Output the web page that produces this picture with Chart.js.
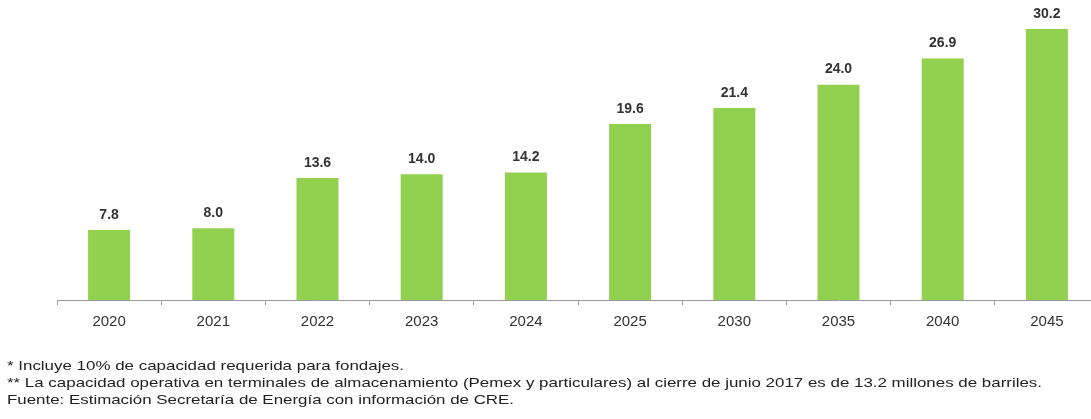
<!DOCTYPE html>
<html><head><meta charset="utf-8">
<script src="https://cdn.jsdelivr.net/npm/chart.js@4"></script>
<style>
html,body{margin:0;padding:0;background:#fff;}
#wrap{position:relative;width:1091px;height:419px;overflow:hidden;}
#c{position:absolute;left:0;top:0;}
.fn{position:absolute;left:7px;font-family:"Liberation Sans",Arial,sans-serif;font-size:13px;color:#222;white-space:nowrap;transform-origin:0 50%;line-height:16px;}
</style></head>
<body>
<div id="wrap">
<canvas id="c" width="1110" height="419"></canvas>
<div class="fn" id="f1" style="top:358px" data-w="397"></div>
<div class="fn" id="f2" style="top:375px" data-w="1035"></div>
<div class="fn" id="f3" style="top:392px" data-w="507"></div>
</div>
<script>
const categories = ["2020","2021","2022","2023","2024","2025","2030","2035","2040","2045"];
const values = [7.8, 8.0, 13.6, 14.0, 14.2, 19.6, 21.4, 24.0, 26.9, 30.2];
const footnotes = [
  "* Incluye 10% de capacidad requerida para fondajes.",
  "** La capacidad operativa en terminales de almacenamiento (Pemex y particulares) al cierre de junio 2017 es de 13.2 millones de barriles.",
  "Fuente: Estimación Secretaría de Energía con información de CRE."
];

["f1","f2","f3"].forEach((id,i)=>{
  const el=document.getElementById(id);
  el.textContent=footnotes[i];
  const w=el.getBoundingClientRect().width;
  const target=+el.dataset.w;
  el.style.transform="scaleX("+(target/w)+")";
});

const valueLabels = {
  id:'valueLabels',
  afterDatasetsDraw(chart){
    const ctx=chart.ctx;
    const meta=chart.getDatasetMeta(0);
    ctx.save();
    ctx.font='bold 14px "Liberation Sans", Arial, sans-serif';
    ctx.fillStyle='#333';
    ctx.textAlign='center';
    ctx.textBaseline='bottom';
    meta.data.forEach((bar,i)=>{
      ctx.fillText(values[i].toFixed(1), bar.x, bar.y-8);
    });
    ctx.restore();
  }
};

new Chart(document.getElementById('c'),{
  type:'bar',
  data:{labels:categories,datasets:[{data:values,backgroundColor:'#92D050',borderWidth:0,barPercentage:0.403,categoryPercentage:1}]},
  options:{
    responsive:false,animation:false,
    layout:{padding:{left:57,right:11,top:29,bottom:80}},
    plugins:{legend:{display:false},tooltip:{enabled:false}},
    scales:{
      x:{
        grid:{display:true,drawOnChartArea:false,drawTicks:true,tickLength:5,color:'#999',offset:true},
        border:{display:true,color:'#999'},
        ticks:{color:'#333',padding:8,font:{family:'"Liberation Sans", Arial, sans-serif',size:15}}
      },
      y:{display:false,min:0,max:30.2}
    }
  },
  plugins:[valueLabels]
});
</script>
</body></html>
